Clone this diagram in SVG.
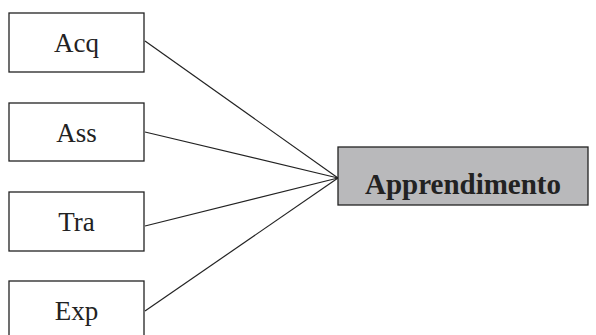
<svg xmlns="http://www.w3.org/2000/svg" width="596" height="335" viewBox="0 0 596 335">
<style>
.box{fill:#fff;stroke:#222;stroke-width:1.3}
.tgt{fill:#b9b9bb;stroke:#222;stroke-width:1.3}
.lbl{font-family:"Liberation Serif","Times New Roman",serif;font-size:27px;fill:#222;text-anchor:middle}
.bold{font-weight:bold;font-size:29px}
.conn line{stroke:#222;stroke-width:1.2}
</style>
<rect width="596" height="335" fill="#fff"/>
<g class="conn">
<line x1="145" y1="41" x2="338" y2="178"/>
<line x1="145" y1="132" x2="338" y2="178"/>
<line x1="145" y1="226" x2="338" y2="178"/>
<line x1="145" y1="311" x2="338" y2="178"/>
</g>
<g id="acq"><rect class="box" x="9" y="13" width="135" height="59"/><text class="lbl" x="76.5" y="52">Acq</text></g>
<g id="ass"><rect class="box" x="9" y="103" width="135" height="58"/><text class="lbl" x="76.5" y="142">Ass</text></g>
<g id="tra"><rect class="box" x="9" y="192" width="135" height="59"/><text class="lbl" x="76.5" y="231">Tra</text></g>
<g id="exp"><rect class="box" x="9" y="281" width="135" height="59"/><text class="lbl" x="76.5" y="320">Exp</text></g>
<g id="apprendimento"><rect class="tgt" x="338" y="147" width="250" height="58"/><text class="lbl bold" x="463" y="194">Apprendimento</text></g>
</svg>
